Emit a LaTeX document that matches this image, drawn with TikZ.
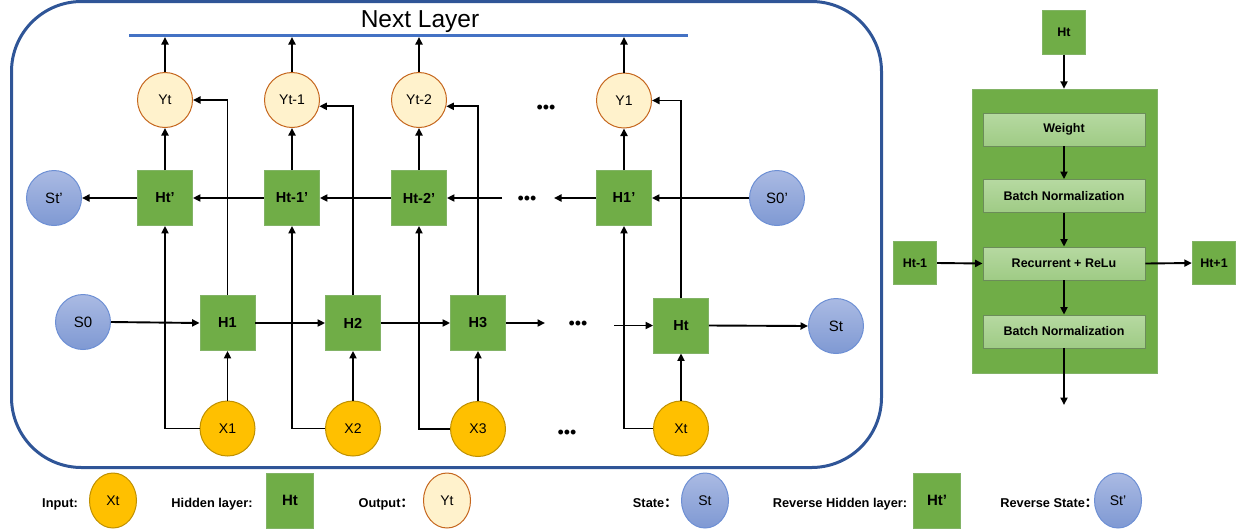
\documentclass[tikz,border=0pt]{standalone}
\usepackage{fontspec}
\setmainfont{Liberation Sans}
\newfontfamily\cjk{Noto Sans CJK SC}
\usetikzlibrary{arrows.meta,shapes.geometric}
\definecolor{hgreen}{HTML}{70AD47}
\definecolor{hborder}{HTML}{82B366}
\definecolor{yfill}{HTML}{FFF2CC}
\definecolor{yborder}{HTML}{C5661D}
\definecolor{xfill}{HTML}{FFC000}
\definecolor{xborder}{HTML}{BF9000}
\definecolor{stop}{HTML}{AABAE3}
\definecolor{sbot}{HTML}{7F99D3}
\definecolor{sborder}{HTML}{6D8FD4}
\definecolor{outerblue}{HTML}{2F5597}
\definecolor{nlblue}{HTML}{4472C4}
\definecolor{itop}{HTML}{B6D9A1}
\definecolor{ibot}{HTML}{9FCB85}
\definecolor{iborder}{HTML}{6B8C59}
\begin{document}
\begin{tikzpicture}[x=1pt,y=-1pt,
  arr/.style={line width=1.9pt,-{Triangle[length=7.5pt,width=7pt]}},
  hbox/.style={rectangle,draw=hborder,fill=hgreen,line width=0.8pt,minimum size=55pt,inner sep=0pt,font=\fontsize{14.5}{16}\selectfont\bfseries},
  ycirc/.style={circle,draw=yborder,fill=yfill,line width=1pt,minimum size=55pt,inner sep=0pt,font=\fontsize{14}{16}\selectfont},
  xcirc/.style={circle,draw=xborder,fill=xfill,line width=1pt,minimum size=55pt,inner sep=0pt,font=\fontsize{14}{16}\selectfont},
  scirc/.style={circle,draw=sborder,top color=stop,bottom color=sbot,line width=1pt,minimum size=55pt,inner sep=0pt,font=\fontsize{15}{17}\selectfont},
  dots/.style={inner sep=0pt,anchor=base,font=\fontsize{18}{20}\selectfont},
  sbox/.style={rectangle,draw=hborder,fill=hgreen,line width=0.8pt,minimum size=43.5pt,inner sep=0pt,font=\fontsize{12.5}{14}\selectfont\bfseries},
  ibox/.style={rectangle,draw=iborder,top color=itop,bottom color=ibot,line width=0.8pt,minimum width=162pt,minimum height=33pt,inner sep=0pt,font=\fontsize{12.5}{14}\selectfont\bfseries},
  leglabel/.style={inner sep=0pt,anchor=base,font=\fontsize{12.8}{14}\selectfont\bfseries},
  legell/.style={ellipse,line width=1pt,minimum width=47pt,minimum height=55pt,inner sep=0pt,font=\fontsize{14}{16}\selectfont},
  legbox/.style={rectangle,draw=hborder,fill=hgreen,line width=0.8pt,minimum width=47pt,minimum height=55pt,inner sep=0pt,font=\fontsize{15}{17}\selectfont\bfseries}
]
\useasboundingbox (0,0) rectangle (1238,531);

% outer frame
\draw[outerblue,line width=3pt,rounded corners=70pt] (11.5,1.5) rectangle (881.5,467.5);

% next layer
\node[anchor=base,inner sep=0pt,font=\fontsize{24.5}{28}\selectfont] (NLt) at (420,27) {Next Layer};
\coordinate (NL1) at (129,35);
\coordinate (NL2) at (688,35);
\coordinate (NLb) at (0,37);
\draw[nlblue,line width=3pt] (NL1) -- (NL2);

% outputs
\node[ycirc] (Y1) at (165,100) {Yt};
\node[ycirc] (Y2) at (292,100) {Yt-1};
\node[ycirc] (Y3) at (419,100) {Yt-2};
\node[ycirc] (Y4) at (624,100.5) {Y1};

% reverse hidden
\node[hbox] (R1) at (165,198) {Ht’};
\node[hbox] (R2) at (292,198) {Ht-1’};
\node[hbox] (R3) at (419,198) {Ht-2’};
\node[hbox] (R4) at (624,198) {H1’};
\node[scirc] (Sp) at (54,198) {St’};
\node[scirc] (S0p) at (777,198) {S0’};

% forward hidden
\node[hbox] (H1) at (227.5,323) {H1};
\node[hbox] (H2) at (353,323) {H2};
\node[hbox] (H3) at (478,323) {H3};
\node[hbox] (H4) at (681,325.5) {Ht};
\node[scirc] (S0) at (83,322) {S0};
\node[scirc] (St) at (836,326) {St};

% inputs
\node[xcirc] (X1) at (227.5,428.5) {X1};
\node[xcirc] (X2) at (353,428.5) {X2};
\node[xcirc] (X3) at (478,429) {X3};
\node[xcirc] (X4) at (681,428.5) {Xt};

% dots
\node[dots] (D1) at (546,113.5) {•••};
\node[dots] (D2) at (527,204.5) {•••};
\node[dots] (D3) at (578,329) {•••};
\node[dots] (D4) at (567,438) {•••};
\coordinate (m1) at (502,198);
\coordinate (m2) at (554,198);
\coordinate (d1) at (545,323);
\coordinate (d2) at (614,325.5);

% Y to next layer
\foreach \n in {Y1,Y2,Y3,Y4} \draw[arr] (\n.north) -- (\n.north |- NLb);
% R to Y
\foreach \i in {1,2,3,4} \draw[arr] (R\i.north) -- (Y\i.south);
% reverse row
\draw[arr] (R1.west) -- (Sp.east);
\draw[arr] (R2.west) -- (R1.east);
\draw[arr] (R3.west) -- (R2.east);
\draw[arr] (m1) -- (R3.east);
\draw[arr] (R4.west) -- (m2);
\draw[arr] (S0p.west) -- (R4.east);

% X to R
\foreach \i in {1,2,3,4} \draw[arr] (X\i.west) -| (R\i.south);
% X to H
\foreach \i in {1,2,3,4} \draw[arr] (X\i.north) -- (H\i.south);
% H to Y
\draw[arr] (H1.north) |- (Y1.east);
\draw[arr] (H2.north) |- (Y2.-13);
\draw[arr] (H3.north) |- (Y3.-13);
\draw[arr] (H4.north) |- (Y4.east);
% forward row
\draw[arr] (S0.east) -- (H1.west);
\draw[arr] (H1.east) -- (H2.west);
\draw[arr] (H2.east) -- (H3.west);
\draw[arr] (H3.east) -- (d1);
\draw[arr] (d2) -- (H4.west);
\draw[arr] (H4.east) -- (St.west);

% right panel
\node[sbox] (T) at (1064,32.5) {Ht};
\node[rectangle,draw=hborder,fill=hgreen,line width=0.5pt,minimum width=185pt,minimum height=284pt,inner sep=0pt] (B) at (1064.5,231) {};
\node[ibox] (W) at (1064,129.5) {Weight};
\node[ibox] (BN1) at (1064,196) {Batch Normalization};
\node[ibox] (RC) at (1064,263.5) {Recurrent + ReLu};
\node[ibox] (BN2) at (1064,331.5) {Batch Normalization};
\node[sbox] (Hm) at (915,263) {Ht-1};
\node[sbox] (Hp) at (1214,263) {Ht+1};
\coordinate (E) at (1064,405);
\draw[arr] (T.south) -- (T.south |- B.north);
\draw[arr] (W.south) -- (BN1.north);
\draw[arr] (BN1.south) -- (RC.north);
\draw[arr] (RC.south) -- (BN2.north);
\draw[arr] (BN2.south) -- (E);
\draw[arr] (Hm.east) -- (RC.west);
\draw[arr] (RC.east) -- (Hp.west);

% legend
\node[leglabel] (L1) at (60,507.5) {Input:};
\node[legell,draw=xborder,fill=xfill] (LX) at (113,500.5) {Xt};
\node[leglabel] (L2) at (212,507.5) {Hidden layer:};
\node[legbox] (LH) at (290,500.5) {Ht};
\node[leglabel] (L3) at (386,507.5) {Output\cjk{：}};
\node[legell,draw=yborder,fill=yfill] (LY) at (447,500.5) {Yt};
\node[leglabel] (L4) at (655,507.5) {State\cjk{：}};
\node[legell,draw=sborder,top color=stop,bottom color=sbot] (LS) at (705,500.5) {St};
\node[leglabel] (L5) at (840,507.5) {Reverse Hidden layer:};
\node[legbox] (LR) at (937,500.5) {Ht’};
\node[leglabel] (L6) at (1049,507.5) {Reverse State\cjk{：}};
\node[legell,draw=sborder,top color=stop,bottom color=sbot] (LSp) at (1118,500.5) {St’};
\end{tikzpicture}
\end{document}
